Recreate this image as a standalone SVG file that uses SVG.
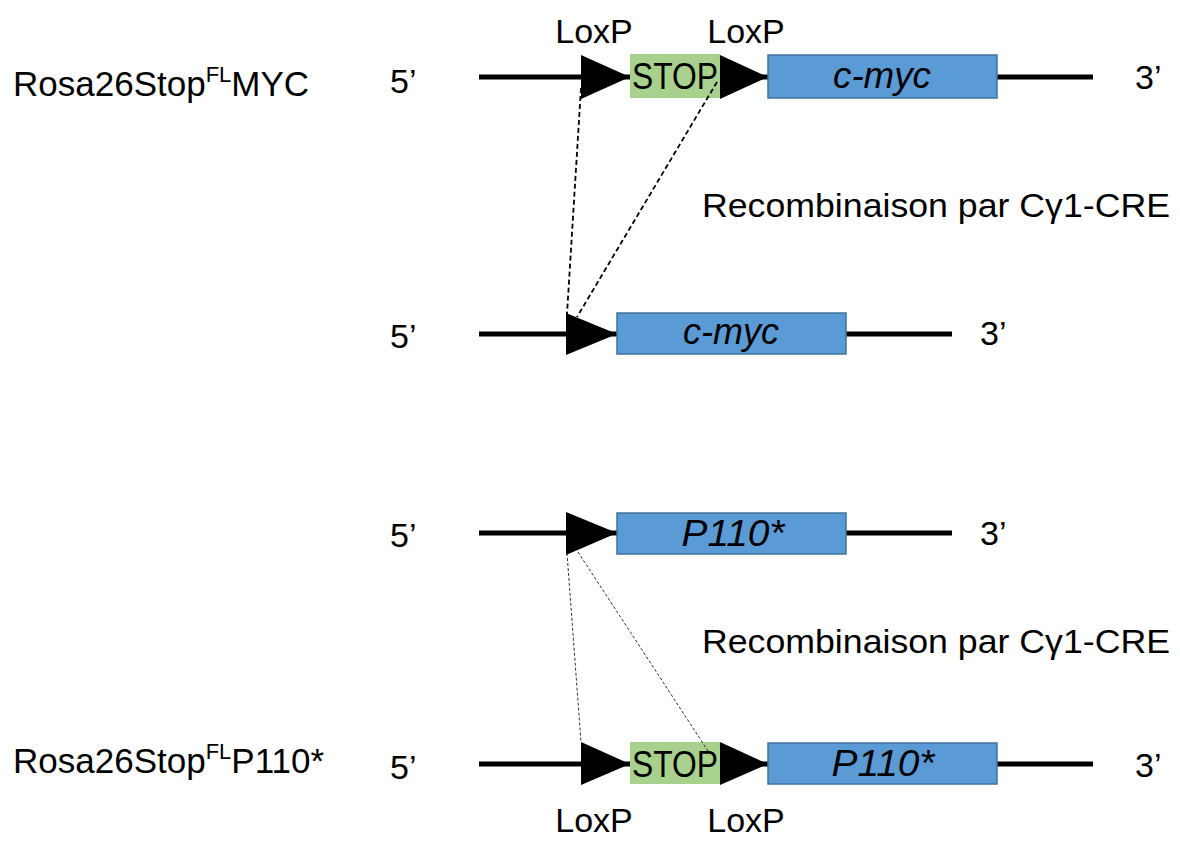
<svg xmlns="http://www.w3.org/2000/svg" width="1180" height="841" viewBox="0 0 1180 841">
<style>
text{font-family:"Liberation Sans",Arial,sans-serif;fill:#000}
.t{font-size:34px}
.lbl{font-size:35px}
.gene{font-size:36px;font-style:italic}
.stop{font-size:36px}
.dna{stroke:#000;stroke-width:5;fill:none}
.box{fill:#5b9bd5;stroke:#41719c;stroke-width:1.5}
.sbox{fill:#a9d18e}
.lox{fill:#000}
.d1{stroke:#000;stroke-width:1.8;stroke-dasharray:5 3;fill:none}
.d2{stroke:#333;stroke-width:1;stroke-dasharray:3 2;fill:none}
</style>
<rect width="1180" height="841" fill="#fff"/>
<g id="labels">
<text class="lbl" x="13" y="96">Rosa26Stop<tspan font-size="22" dy="-14">FL</tspan><tspan dy="14">MYC</tspan></text>
<text class="lbl" x="13" y="773">Rosa26Stop<tspan font-size="22" dy="-14">FL</tspan><tspan dy="14">P110*</tspan></text>
<text class="t" x="702" y="217" textLength="468" lengthAdjust="spacingAndGlyphs">Recombinaison par Cγ1-CRE</text>
<text class="t" x="702" y="653" textLength="468" lengthAdjust="spacingAndGlyphs">Recombinaison par Cγ1-CRE</text>
</g>
<g id="row1">
<line class="dna" x1="479" y1="77" x2="1093" y2="77"/>
<text class="t" x="390" y="93">5’</text>
<text class="t" x="1135" y="89">3’</text>
<rect class="sbox" x="630" y="54" width="90" height="44"/>
<text class="stop" x="675" y="89" text-anchor="middle" textLength="86" lengthAdjust="spacingAndGlyphs">STOP</text>
<polygon class="lox" points="581,55 581,99 630,77"/>
<polygon class="lox" points="720,55 720,99 768,77"/>
<rect class="box" x="768" y="55" width="229" height="43"/>
<text class="gene" x="882" y="88" text-anchor="middle" textLength="98" lengthAdjust="spacingAndGlyphs">c-myc</text>
<text class="t" x="594" y="43" text-anchor="middle">LoxP</text>
<text class="t" x="746" y="43" text-anchor="middle">LoxP</text>
</g>
<g id="row2">
<line class="dna" x1="479" y1="334" x2="952" y2="334"/>
<text class="t" x="390" y="348">5’</text>
<text class="t" x="980" y="345">3’</text>
<polygon class="lox" points="566,313 566,355 617,334"/>
<rect class="box" x="617" y="313" width="229" height="41"/>
<text class="gene" x="731" y="344" text-anchor="middle" textLength="96" lengthAdjust="spacingAndGlyphs">c-myc</text>
</g>
<g id="row3">
<line class="dna" x1="479" y1="533" x2="952" y2="533"/>
<text class="t" x="390" y="547">5’</text>
<text class="t" x="980" y="545">3’</text>
<polygon class="lox" points="566,512 566,555 617,533"/>
<rect class="box" x="617" y="513" width="229" height="41"/>
<text class="gene" x="733" y="546" text-anchor="middle" textLength="103" lengthAdjust="spacingAndGlyphs">P110*</text>
</g>
<g id="row4">
<line class="dna" x1="479" y1="764" x2="1093" y2="764"/>
<text class="t" x="390" y="779">5’</text>
<text class="t" x="1135" y="777">3’</text>
<rect class="sbox" x="630" y="742" width="90" height="42"/>
<text class="stop" x="675" y="777" text-anchor="middle" textLength="86" lengthAdjust="spacingAndGlyphs">STOP</text>
<polygon class="lox" points="581,742 581,785 630,764"/>
<polygon class="lox" points="720,742 720,785 768,764"/>
<rect class="box" x="768" y="743" width="229" height="41"/>
<text class="gene" x="883" y="776" text-anchor="middle" textLength="103" lengthAdjust="spacingAndGlyphs">P110*</text>
<text class="t" x="594" y="832" text-anchor="middle">LoxP</text>
<text class="t" x="746" y="832" text-anchor="middle">LoxP</text>
</g>
<g id="connectors">
<line class="d1" x1="581" y1="88" x2="567" y2="314"/>
<line class="d1" x1="717" y1="82" x2="577" y2="317"/>
<line class="d2" x1="567" y1="553" x2="581" y2="742"/>
<line class="d2" x1="578" y1="552" x2="710" y2="754"/>
</g>
</svg>
